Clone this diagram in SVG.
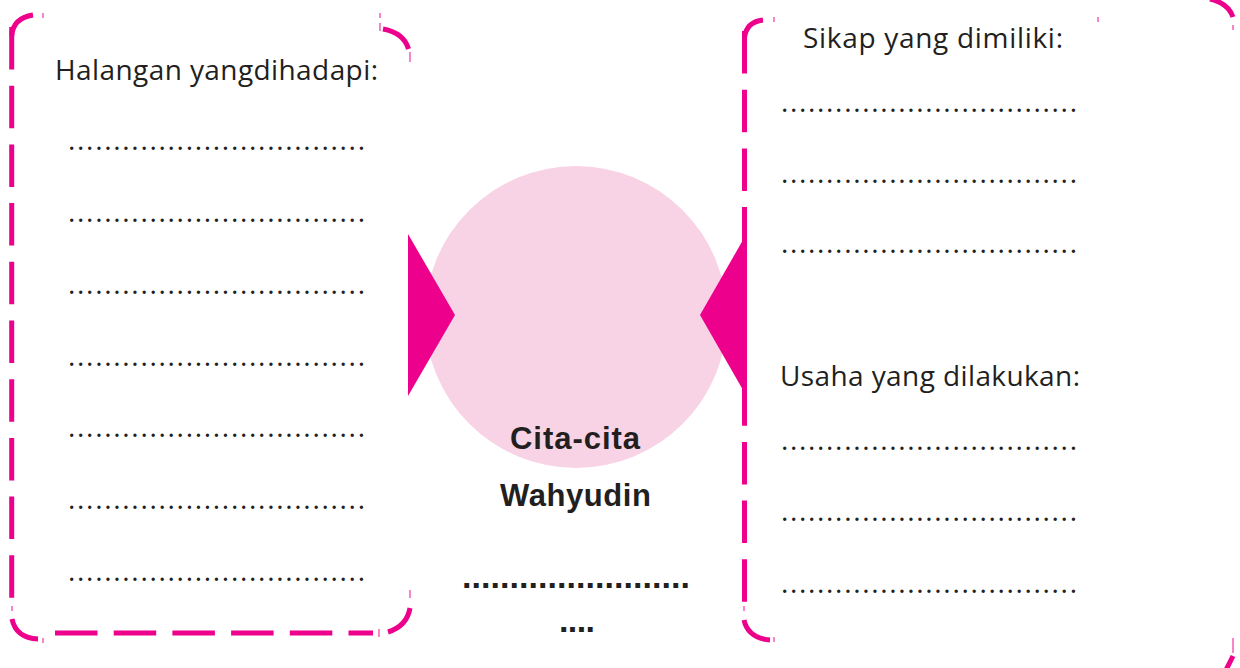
<svg xmlns="http://www.w3.org/2000/svg" width="1240" height="668" viewBox="0 0 1240 668">
<style>
.edge{fill:none;stroke:#EC008C;stroke-width:5}
.dash{fill:none;stroke:#EC008C;stroke-width:5;stroke-dasharray:42.5 16.2}
.tick{fill:none;stroke:#EC008C;stroke-width:1.2;stroke-opacity:0.8}
.lbl{font-family:"Open Sans","Liberation Sans",sans-serif;font-size:28px;fill:#231F20}
.dots{font-family:"Open Sans","Liberation Sans",sans-serif;font-size:28px;fill:#231F20}
.big{font-family:"Liberation Sans",Arial,sans-serif;font-weight:bold;font-size:31px;fill:#231F20}
.bigdots{font-family:"Liberation Sans",Arial,sans-serif;font-weight:bold;font-size:34px;fill:#231F20}
.tri{fill:#EC008C}
</style>
<rect width="1240" height="668" fill="#FFFFFF"/>

<g id="center-node">
  <circle cx="576" cy="317" r="151" fill="#F8D3E5"/>
  <text class="big" x="510" y="449" textLength="130">Cita-cita</text>
  <text class="big" x="500" y="506" textLength="151">Wahyudin</text>
  <text class="bigdots" x="462" y="588" textLength="228">........................</text>
  <text class="bigdots" x="559" y="632" textLength="36">....</text>
</g>

<g id="left-node">
  <line class="dash" x1="11.7" y1="27" x2="11.7" y2="598"/>
  <path class="edge" d="M11.7 36 Q13 18 33 15"/>
  <path class="edge" d="M383 29 Q404 33 408.5 49"/>
  <line class="dash" x1="55" y1="633" x2="373" y2="633"/>
  <path class="edge" d="M388 632 Q407 626 410 608"/>
  <path class="edge" d="M12 619 Q16 638 38 639"/>
  <line class="tick" x1="43" y1="13" x2="43" y2="18"/>
  <line class="tick" x1="380" y1="13" x2="380" y2="18"/>
  <line class="tick" x1="380" y1="23" x2="380" y2="31"/>
  <line class="tick" x1="410" y1="52" x2="410" y2="62"/>
  <line class="tick" x1="410" y1="590" x2="410" y2="598"/>
  <line class="tick" x1="379" y1="629" x2="379" y2="637"/>
  <line class="tick" x1="43" y1="638" x2="43" y2="643"/>
  <line class="tick" x1="12" y1="606" x2="12" y2="611"/>
  <text class="lbl" x="55" y="80" textLength="323">Halangan yangdihadapi:</text>
  <text class="dots" x="68" y="150" textLength="297">.................................</text>
  <text class="dots" x="68" y="222" textLength="297">.................................</text>
  <text class="dots" x="68" y="294" textLength="297">.................................</text>
  <text class="dots" x="68" y="366" textLength="297">.................................</text>
  <text class="dots" x="68" y="437" textLength="297">.................................</text>
  <text class="dots" x="68" y="509" textLength="297">.................................</text>
  <text class="dots" x="68" y="581" textLength="297">.................................</text>
</g>

<g id="right-node">
  <line class="dash" x1="744.5" y1="31" x2="744.5" y2="602"/>
  <path class="edge" d="M744.5 38 Q746 22 763 20"/>
  <path class="edge" d="M1210 -1 Q1228 3 1233 17"/>
  <path class="edge" d="M744 620 Q748 638 770 640"/>
  <path class="edge" d="M1226 670 Q1230 662 1233 656"/>
  <line class="tick" x1="774" y1="17" x2="774" y2="22"/>
  <line class="tick" x1="1098" y1="17" x2="1098" y2="22"/>
  <line class="tick" x1="1233" y1="25" x2="1233" y2="30"/>
  <line class="tick" x1="1233" y1="638" x2="1233" y2="653"/>
  <line class="tick" x1="744" y1="606" x2="744" y2="611"/>
  <line class="tick" x1="774" y1="637" x2="774" y2="642"/>
  <text class="lbl" x="803" y="48" textLength="260">Sikap yang dimiliki:</text>
  <text class="dots" x="781" y="112" textLength="296">.................................</text>
  <text class="dots" x="781" y="183" textLength="296">.................................</text>
  <text class="dots" x="781" y="253" textLength="296">.................................</text>
  <text class="lbl" x="780" y="386" textLength="300">Usaha yang dilakukan:</text>
  <text class="dots" x="781" y="450" textLength="296">.................................</text>
  <text class="dots" x="781" y="521" textLength="296">.................................</text>
  <text class="dots" x="781" y="593" textLength="296">.................................</text>
</g>

<g id="connectors">
  <polygon class="tri" points="408,234 455,315 408,396"/>
  <polygon class="tri" points="747,233 700,315 747,397"/>
</g>
</svg>
